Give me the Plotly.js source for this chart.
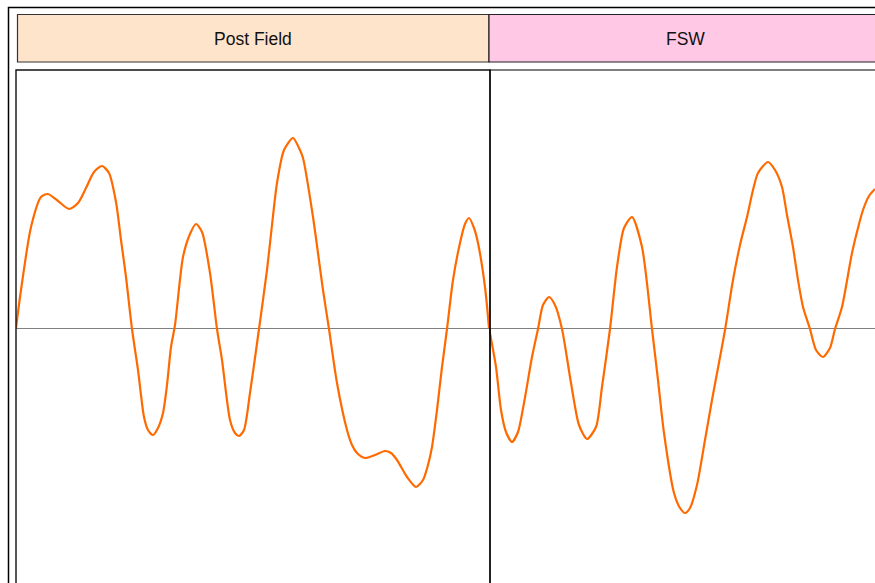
<!DOCTYPE html>
<html>
<head>
<meta charset="utf-8">
<script src="https://cdn.plot.ly/plotly-3.0.1.min.js"></script>
<style>
  html, body { margin: 0; padding: 0; overflow: hidden; background: #fff; }
  #chart { width: 890px; height: 600px; }
</style>
</head>
<body>
<div id="chart"></div>
<script>
// Facet labels
const facetLabels = ["Post Field", "FSW"];
const stripColors = ["#FFE4CC", "#FFC9E6"];

// Post Field panel: time index and signal values
const postFieldT = [0, 5, 15, 25, 32, 42, 53, 62, 70, 78, 86, 93, 100, 105, 110, 116, 122, 128, 132, 137, 142, 147, 151, 155, 159, 167, 174, 180, 186, 194, 201, 206, 214, 219, 223, 228, 234, 243, 251, 256, 261, 268, 277, 283, 287, 297, 307, 313, 321, 331, 336, 341, 349, 359, 369, 375, 381, 391, 400, 407, 412, 416, 421, 426, 431, 437, 444, 449, 453, 458, 462, 469, 473];
const postFieldV = [0, 38, 101, 131, 134, 127, 119, 125, 140, 156, 162, 155, 126, 88, 51, -1, -42, -89, -102, -107, -100, -85, -57, -19, 3, 71, 94, 104, 96, 55, -1, -32, -92, -105, -108, -102, -65, -1, 58, 103, 145, 178, 190, 180, 170, 111, 38, -1, -55, -102, -117, -125, -130, -127, -123, -125, -132, -149, -159, -152, -137, -119, -82, -39, -1, 48, 85, 104, 110, 100, 85, 41, 0];

// FSW panel: time index and signal values
const fswT = [0, 7, 12, 17, 23, 29, 35, 43, 49, 54, 60, 66, 73, 82, 90, 98, 107, 113, 121, 128, 135, 143, 153, 163, 169, 175, 185, 191, 196, 201, 208, 216, 223, 229, 236, 244, 251, 258, 264, 269, 279, 286, 293, 298, 304, 309, 314, 321, 327, 334, 341, 346, 353, 363, 369, 374, 380, 386];
const fswV = [0, -39, -82, -104, -114, -104, -75, -29, -1, 23, 31, 23, -1, -55, -97, -111, -99, -59, -1, 61, 100, 111, 81, -1, -52, -105, -165, -180, -185, -180, -157, -112, -72, -40, -2, 48, 83, 111, 138, 155, 166, 158, 141, 113, 81, 48, 21, -1, -22, -29, -20, -1, 21, 75, 100, 118, 132, 139];

const lineColor = "#FF6A00";

const traces = [
  { x: postFieldT, y: postFieldV, xaxis: "x", yaxis: "y", type: "scatter", mode: "lines",
    line: { color: lineColor, width: 2.2, shape: "spline", smoothing: 0.7 }, hoverinfo: "skip" },
  { x: fswT, y: fswV, xaxis: "x2", yaxis: "y2", type: "scatter", mode: "lines",
    line: { color: lineColor, width: 2.2, shape: "spline", smoothing: 0.7 }, hoverinfo: "skip" }
];

// geometry helpers (pixel -> paper), plot area 16..881 x 70..586
const W = 890, H = 600, L = 16, R = 9, T = 70, B = 14;
const pw = W - L - R, ph = H - T - B;
const px = v => (v - L) / pw;
const py = v => (H - B - v) / ph;
const split = px(489);

const hidden = { showgrid: false, showticklabels: false, ticks: "", showline: false, zeroline: false };

const layout = {
  width: W, height: H,
  margin: { l: L, r: R, t: T, b: B },
  paper_bgcolor: "#fff", plot_bgcolor: "rgba(0,0,0,0)",
  showlegend: false,
  xaxis: Object.assign({}, hidden, { domain: [0, split], range: [0, 473] }),
  xaxis2: Object.assign({}, hidden, { domain: [split, 1], range: [0, 392], anchor: "y2" }),
  yaxis: Object.assign({}, hidden, { range: [-258, 258], zeroline: true, zerolinecolor: "#808080", zerolinewidth: 1 }),
  yaxis2: Object.assign({}, hidden, { range: [-258, 258], anchor: "x2", zeroline: true, zerolinecolor: "#808080", zerolinewidth: 1 }),
  shapes: [
    // outer border
    { type: "rect", xref: "paper", yref: "paper", x0: px(8.5), x1: px(887), y0: py(597), y1: py(7.5),
      line: { color: "#000", width: 1.5 }, fillcolor: "rgba(0,0,0,0)", layer: "below" },
    // strips
    { type: "rect", xref: "paper", yref: "paper", x0: px(17.5), x1: split, y0: py(62), y1: py(14.5),
      line: { color: "#333", width: 1.2 }, fillcolor: stripColors[0], layer: "below" },
    { type: "rect", xref: "paper", yref: "paper", x0: split, x1: px(881), y0: py(62), y1: py(14.5),
      line: { color: "#222", width: 1.2 }, fillcolor: stripColors[1], layer: "below" },
    // panel borders
    { type: "rect", xref: "paper", yref: "paper", x0: 0, x1: px(490), y0: 0, y1: 1,
      line: { color: "#111", width: 1.4 }, fillcolor: "rgba(0,0,0,0)", layer: "above" },
    { type: "rect", xref: "paper", yref: "paper", x0: px(490), x1: 1, y0: 0, y1: 1,
      line: { color: "#000", width: 1.2 }, fillcolor: "rgba(0,0,0,0)", layer: "above" }
  ],
  annotations: [
    { xref: "paper", yref: "paper", x: (px(17.5) + split) / 2, y: py(39), text: facetLabels[0],
      showarrow: false, xanchor: "center", yanchor: "middle",
      font: { family: "Liberation Sans, Arial, sans-serif", size: 17.5, color: "#111" } },
    { xref: "paper", yref: "paper", x: (split + px(881)) / 2, y: py(39), text: facetLabels[1],
      showarrow: false, xanchor: "center", yanchor: "middle",
      font: { family: "Liberation Sans, Arial, sans-serif", size: 17.5, color: "#111" } }
  ]
};

Plotly.newPlot("chart", traces, layout, { staticPlot: true, displayModeBar: false });
</script>
</body>
</html>
